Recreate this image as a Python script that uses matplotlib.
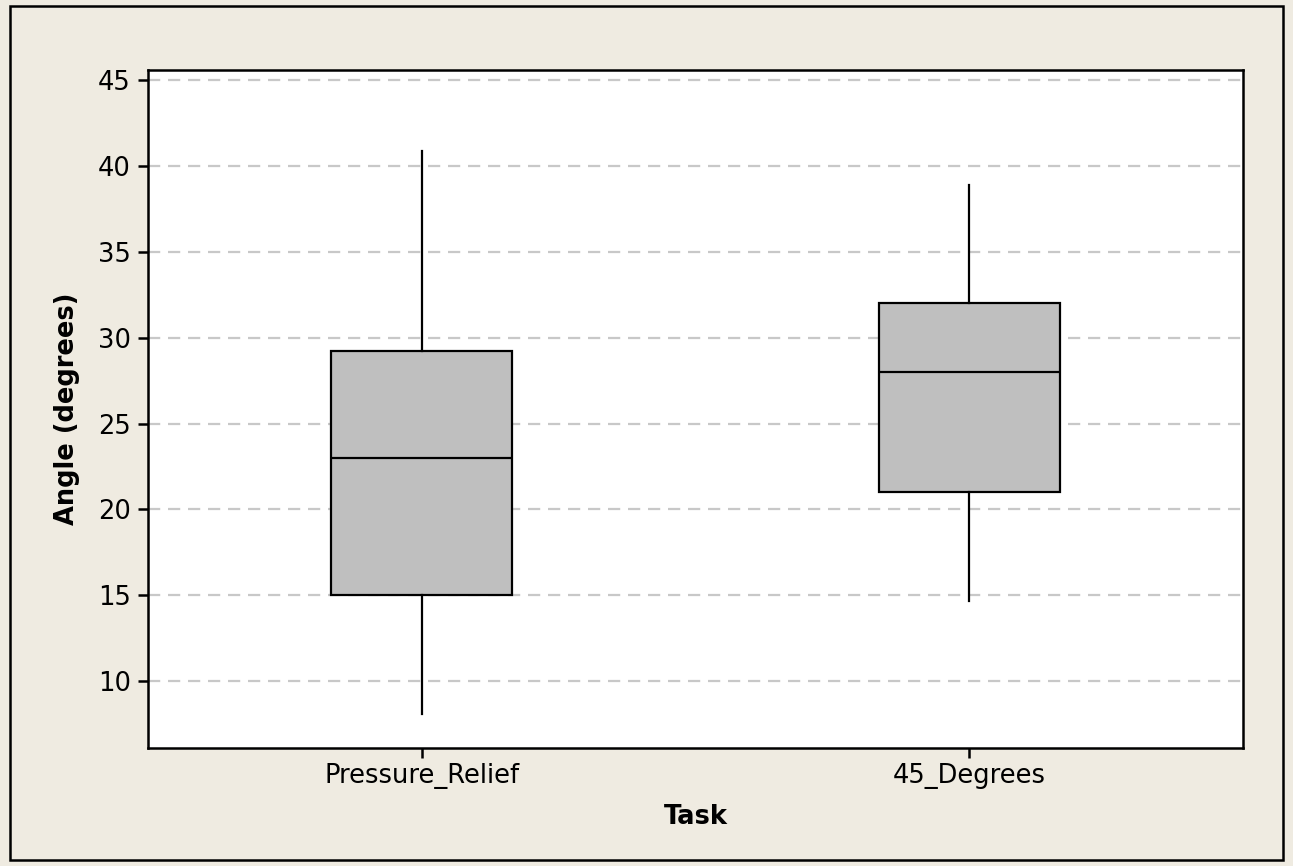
import matplotlib
matplotlib.use("Agg")
import matplotlib.pyplot as plt
from matplotlib.patches import Rectangle

# summary values
tasks = ["Pressure_Relief", "45_Degrees"]
whisker_low = [8.1, 14.65]
q1 = [15.0, 21.0]
median = [23.0, 28.0]
q3 = [29.25, 32.0]
whisker_high = [40.9, 38.9]

bg = "#efebe1"

fig = plt.figure(figsize=(12.93, 8.66), dpi=100, facecolor=bg)
ax = fig.add_axes([0.1145, 0.1363, 0.8468, 0.7829])
ax.set_facecolor("white")

stats = []
for i, name in enumerate(tasks):
    stats.append(dict(label=name, whislo=whisker_low[i], q1=q1[i], med=median[i],
                      q3=q3[i], whishi=whisker_high[i], fliers=[]))

ax.bxp(stats, positions=[1, 2], widths=0.33, patch_artist=True, showcaps=False,
       boxprops=dict(facecolor="#bfbfbf", edgecolor="black", linewidth=1.6),
       medianprops=dict(color="black", linewidth=1.6),
       whiskerprops=dict(color="black", linewidth=1.6),
       zorder=3)

ax.set_xlim(0.5, 2.5)
ax.set_ylim(6.1, 45.6)
ax.set_yticks([10, 15, 20, 25, 30, 35, 40, 45])
ax.yaxis.grid(True, color="#c8c8c8", linestyle=(0, (5.5, 3.5)), linewidth=1.6, zorder=0)
ax.set_axisbelow(True)

for s in ax.spines.values():
    s.set_linewidth(1.8)
ax.tick_params(axis="both", direction="out", length=7.5, width=1.8, labelsize=18.5)
ax.tick_params(axis="y", pad=5)
ax.tick_params(axis="x", pad=3)

ax.set_ylabel("Angle (degrees)", fontsize=18.5, fontweight="bold", labelpad=13)
ax.set_xlabel("Task", fontsize=18.5, fontweight="bold", labelpad=11)

fig.add_artist(Rectangle((10 / 1293, 6 / 866), 1 - 20 / 1293, 1 - 12 / 866,
                         transform=fig.transFigure, fill=False, edgecolor="black", linewidth=1.8))

fig.savefig("out.png", dpi=100, facecolor=bg)
